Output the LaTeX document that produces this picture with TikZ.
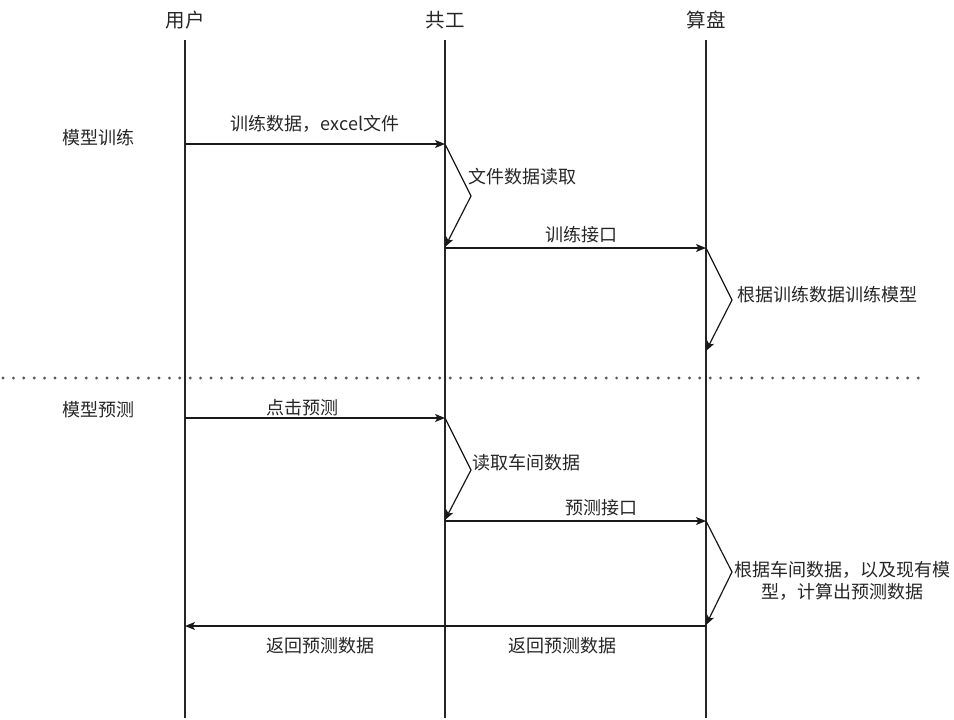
\documentclass[tikz,border=0pt]{standalone}
\usepackage{fontspec}
\setmainfont{Noto Sans CJK SC}
\usetikzlibrary{arrows.meta}
\begin{document}
\begin{tikzpicture}[x=1pt,y=-1pt,
  lbl/.style={font=\fontsize{18}{22}\selectfont, text=black!85, inner sep=0pt},
  ttl/.style={font=\fontsize{19.5}{23}\selectfont, text=black!85, inner sep=0pt},
  life/.style={line width=1.2pt, draw=black!85},
  msg/.style={line width=1.2pt, draw=black!90, -{Stealth[length=10pt,width=8pt,inset=2.5pt]}},
  sep/.style={line width=3.2pt, draw=black!65, line cap=round, dash pattern=on 0pt off 10.4pt}]
\useasboundingbox (0,0) rectangle (954,720);
% lifeline heads
\node[ttl] (u) at (185,20) {用户};
\node[ttl] (g) at (445,20) {共工};
\node[ttl] (s) at (706,20) {算盘};
\coordinate (ut) at (185,40); \coordinate (ub) at (185,718);
\coordinate (gt) at (445,40); \coordinate (gb) at (445,718);
\coordinate (st) at (706,40); \coordinate (sb) at (706,718);
\draw[life] (ut) -- (ub);
\draw[life] (gt) -- (gb);
\draw[life] (st) -- (sb);
% separator
\coordinate (d1) at (3,378); \coordinate (d2) at (924,378);
\draw[sep] (d1) -- (d2);
% section labels
\node[lbl] (sec1) at (98,138) {模型训练};
\node[lbl] (sec2) at (98,410) {模型预测};
% training
\coordinate (u1) at (185,144); \coordinate (g1) at (445,144);
\draw[msg] (u1) -- (g1);
\node[lbl] (m1) at (315,124) {训练数据，excel文件};
\coordinate (k1) at (471,196); \coordinate (g2) at (445,247);
\draw[msg] (g1) -- (k1) -- (g2);
\node[lbl, anchor=west] (m2) at (468,177) {文件数据读取};
\coordinate (g3) at (445,248); \coordinate (s1) at (706,248);
\draw[msg] (g3) -- (s1);
\node[lbl] (m3) at (581,235) {训练接口};
\coordinate (k2) at (732,300); \coordinate (s2) at (706,351);
\draw[msg] (s1) -- (k2) -- (s2);
\node[lbl, anchor=west] (m4) at (737,295) {根据训练数据训练模型};
% prediction
\coordinate (u2) at (185,418); \coordinate (g4) at (445,418);
\draw[msg] (u2) -- (g4);
\node[lbl] (m5) at (302,408) {点击预测};
\coordinate (k3) at (471,470); \coordinate (g5) at (445,520);
\draw[msg] (g4) -- (k3) -- (g5);
\node[lbl, anchor=west] (m6) at (472,463) {读取车间数据};
\coordinate (g6) at (445,521); \coordinate (s3) at (706,521);
\draw[msg] (g6) -- (s3);
\node[lbl] (m7) at (601,508) {预测接口};
\coordinate (k4) at (732,572); \coordinate (s4) at (706,625);
\draw[msg] (s3) -- (k4) -- (s4);
\node[lbl, align=center] (m8) at (842,581) {根据车间数据，以及现有模\\型，计算出预测数据};
\coordinate (s5) at (706,626); \coordinate (u3) at (185,626);
\draw[msg] (s5) -- (u3);
\node[lbl] (m9) at (320,646) {返回预测数据};
\node[lbl] (m10) at (562,646) {返回预测数据};
\end{tikzpicture}
\end{document}
